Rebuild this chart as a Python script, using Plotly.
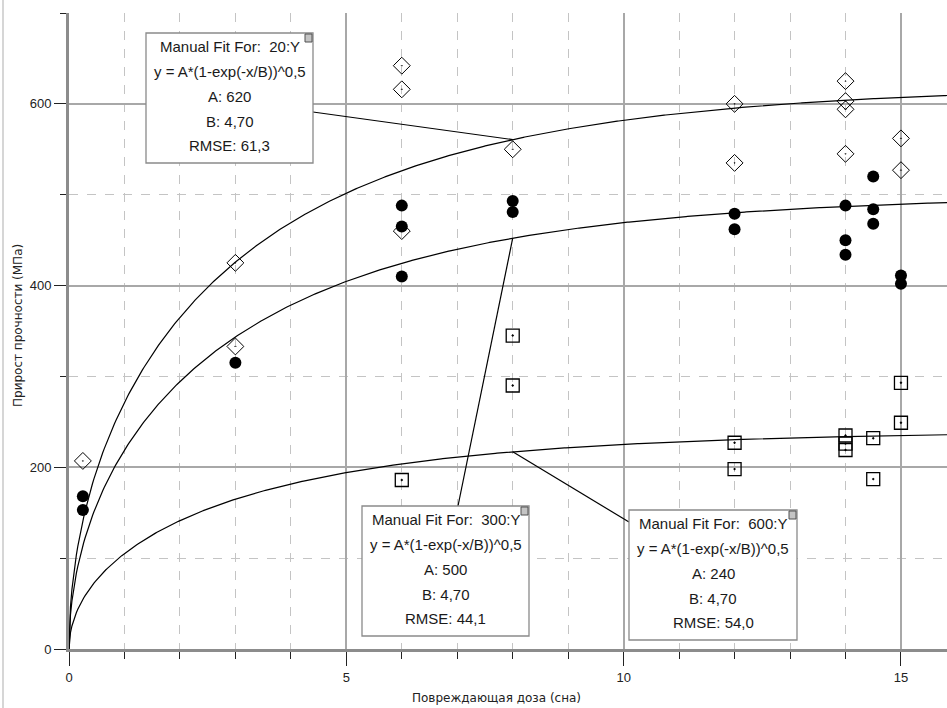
import numpy as np
import plotly.graph_objects as go

# ---------------- data ----------------
dose_20 = [0.25, 3, 3, 6, 6, 6, 8, 12, 12, 14, 14, 14, 14, 15, 15]
gain_20 = [207, 425, 333, 642, 616, 460, 550, 600, 535, 625, 603, 594, 545, 562, 527]

dose_300 = [0.25, 0.25, 3, 6, 6, 6, 8, 8, 12, 12, 14, 14, 14, 14.5, 14.5, 14.5, 15, 15]
gain_300 = [168, 153, 315, 488, 465, 410, 493, 481, 479, 462, 488, 450, 434, 520, 484, 468, 411, 402]

dose_600 = [6, 8, 8, 12, 12, 14, 14, 14, 14.5, 14.5, 15, 15]
gain_600 = [186, 345, 290, 227, 198, 235, 226, 219, 232, 187, 293, 249]

fit_names = ["20:Y", "300:Y", "600:Y"]
fit_A = [620, 500, 240]
fit_B = [4.70, 4.70, 4.70]
fit_rmse = ["61,3", "44,1", "54,0"]
fit_label_x = 8  # dose where the label connector touches the curve

x_ticks = [0, 5, 10, 15]
y_ticks = [0, 200, 400, 600]

# ---------------- layout geometry ----------------
W, H = 947, 708
ML, MR, MT, MB = 69, 0, 13, 59
PW, PH = W - ML - MR, H - MT - MB
XMAX, YMAX = 15.83, 700


def dx(px):  # pixel -> data x
    return (px - ML) / PW * XMAX


def dy(py):  # pixel -> data y
    return (H - MB - py) / PH * YMAX


def fit(x, A, B):
    return A * np.sqrt(1 - np.exp(-np.asarray(x) / B))


fig = go.Figure()

xs = np.linspace(0, XMAX, 600)
for A, B in zip(fit_A, fit_B):
    fig.add_trace(go.Scatter(x=xs, y=fit(xs, A, B), mode="lines",
                             line=dict(color="black", width=1.2),
                             hoverinfo="skip", showlegend=False))

fig.add_trace(go.Scatter(x=dose_20, y=gain_20, mode="markers", showlegend=False,
                         marker=dict(symbol="diamond-open-dot", size=13, color="black",
                                     line=dict(width=1, color="black"))))
fig.add_trace(go.Scatter(x=dose_600, y=gain_600, mode="markers", showlegend=False,
                         marker=dict(symbol="square-open-dot", size=13, color="black",
                                     line=dict(width=1.3, color="black"))))
fig.add_trace(go.Scatter(x=dose_300, y=gain_300, mode="markers", showlegend=False,
                         marker=dict(symbol="circle", size=12, color="black",
                                     line=dict(width=0))))

# ---------------- label boxes ----------------
boxes = [  # left, top, right, bottom (pixels), connector anchor on the box (pixels)
    ((146, 33, 313, 163), (313, 112)),
    ((362, 506, 529, 636), (458, 506)),
    ((629, 510, 797, 640), (629, 522)),
]
shapes = []
annotations = []
line_offsets = [13, 38, 63, 88, 112]
for i, ((l, t, r, b), (cx, cy)) in enumerate(boxes):
    shapes.append(dict(type="line", xref="x", yref="y",
                       x0=dx(cx), y0=dy(cy),
                       x1=fit_label_x, y1=float(fit(fit_label_x, fit_A[i], fit_B[i])),
                       line=dict(color="black", width=1.2)))
    shapes.append(dict(type="rect", xref="x", yref="y",
                       x0=dx(l), y0=dy(t), x1=dx(r), y1=dy(b),
                       fillcolor="white", line=dict(color="#8a8a8a", width=1.3)))
    shapes.append(dict(type="rect", xref="x", yref="y",
                       x0=dx(r - 8), y0=dy(t + 1), x1=dx(r - 1), y1=dy(t + 9),
                       fillcolor="#c4c4c4", line=dict(color="#505050", width=1)))
    lines = [f"Manual Fit For:&nbsp;&nbsp;{fit_names[i]}",
             "y = A*(1-exp(-x/B))^0,5",
             f"A: {fit_A[i]}",
             f"B: {fit_B[i]:.2f}".replace(".", ","),
             f"RMSE: {fit_rmse[i]}"]
    for off, txt in zip(line_offsets, lines):
        annotations.append(dict(xref="x", yref="y", x=dx((l + r) / 2), y=dy(t + off),
                                text=txt, showarrow=False, xanchor="center", yanchor="middle",
                                font=dict(family="Liberation Sans, Arial", size=15, color="#1a1a1a")))

# axis titles
annotations.append(dict(xref="paper", yref="paper", x=(496 - ML) / PW, y=(H - MB - 698) / PH,
                        text="Повреждающая доза (сна)", showarrow=False,
                        xanchor="center", yanchor="middle",
                        font=dict(family="DejaVu Sans", size=12, color="#222")))
annotations.append(dict(xref="paper", yref="paper", x=(18 - ML) / PW, y=(H - MB - 326) / PH,
                        text="Прирост прочности (МПа)", showarrow=False, textangle=-90,
                        xanchor="center", yanchor="middle",
                        font=dict(family="DejaVu Sans", size=12, color="#222")))

# window frame line at far left
shapes.append(dict(type="line", xref="paper", yref="paper",
                   x0=(3 - ML) / PW, x1=(3 - ML) / PW, y0=-MB / PH, y1=1 + MT / PH,
                   line=dict(color="#c8c8c8", width=1.5)))

grid_major = "#a8a8a8"
grid_minor = "#c4c4c4"
fig.update_layout(
    width=W, height=H,
    margin=dict(l=ML, r=MR, t=MT, b=MB, pad=0),
    paper_bgcolor="white", plot_bgcolor="white",
    shapes=shapes, annotations=annotations,
    xaxis=dict(range=[0, XMAX], tickvals=x_ticks, ticktext=[str(v) for v in x_ticks],
               ticks="outside", ticklen=14, tickwidth=1.3, tickcolor="#222",
               showgrid=True, gridcolor=grid_major, gridwidth=1.5,
               showline=True, linecolor="#8c8c8c", linewidth=3, zeroline=False,
               tickfont=dict(family="Liberation Sans, Arial", size=13, color="#222"),
               minor=dict(dtick=1, ticks="outside", ticklen=7, tickwidth=1.3, tickcolor="#222",
                          showgrid=True, gridcolor=grid_minor, gridwidth=1, griddash="dash")),
    yaxis=dict(range=[0, YMAX], tickvals=y_ticks, ticktext=[str(v) for v in y_ticks],
               ticks="outside", ticklen=12, tickwidth=1.3, tickcolor="#222",
               showgrid=True, gridcolor=grid_major, gridwidth=1.5,
               showline=True, linecolor="#8c8c8c", linewidth=3, zeroline=False,
               tickfont=dict(family="Liberation Sans, Arial", size=13, color="#222"),
               minor=dict(dtick=100, ticks="outside", ticklen=6, tickwidth=1.3, tickcolor="#222",
                          showgrid=True, gridcolor=grid_minor, gridwidth=1, griddash="dash")),
)

fig.write_html("out.html")
